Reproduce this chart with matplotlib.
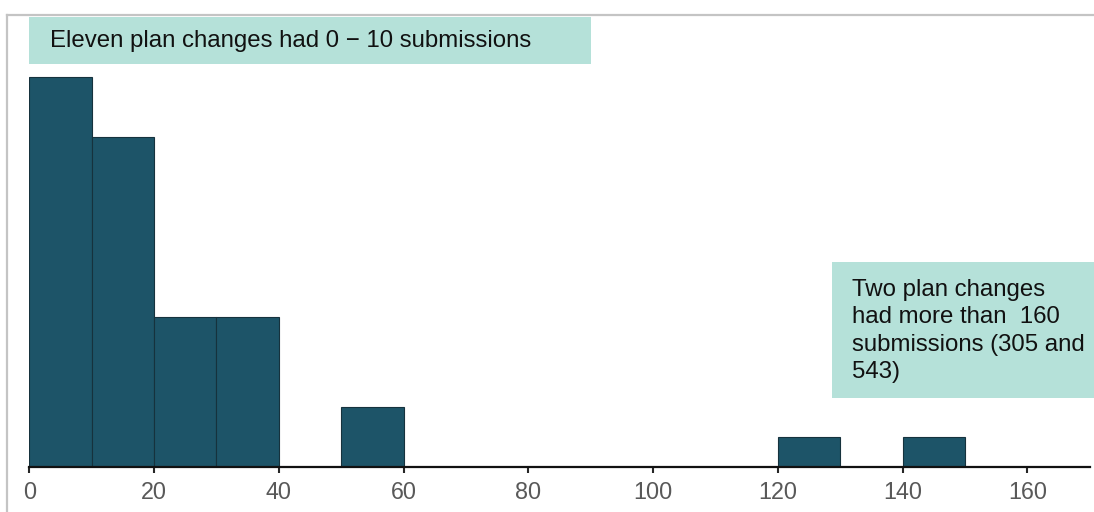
import matplotlib.pyplot as plt
from matplotlib.patches import Rectangle
from matplotlib.lines import Line2D

# submissions per plan change, binned by 10
bin_left = [0, 10, 20, 30, 40, 50, 60, 70, 80, 90, 100, 110, 120, 130, 140]
counts = [13, 11, 5, 5, 0, 2, 0, 0, 0, 0, 0, 0, 1, 0, 1]
xticks = [0, 20, 40, 60, 80, 100, 120, 140, 160]

note_top = "Eleven plan changes had 0 \u2212 10 submissions"
note_right = "Two plan changes\nhad more than  160\nsubmissions (305 and\n543)"

plt.rcParams['font.family'] = ['Liberation Sans', 'DejaVu Sans']

W, H = 1094, 512
fig = plt.figure(figsize=(W / 100, H / 100), dpi=100)

# axes placed in pixel terms
x0, x1 = 29.3, 1089.7
y_base = 466.7
px_per_unit = 29.94
ymax = 15
ax = fig.add_axes([x0 / W, 1 - y_base / H, (x1 - x0) / W, ymax * px_per_unit / H])

lefts = [b for b, c in zip(bin_left, counts) if c > 0]
vals = [c for c in counts if c > 0]
ax.bar(lefts, vals, width=10, align='edge', color='#1d5468',
       edgecolor='#16323d', linewidth=0.8, zorder=2)

ax.set_xlim(0, 170)
ax.set_ylim(0, ymax)
ax.set_xticks(xticks)
ax.set_xticklabels([str(t) for t in xticks])
ax.tick_params(axis='x', direction='out', length=4.5, width=1.5, color='#262626',
               labelsize=16.8, labelcolor='#595959', pad=6)
ax.set_yticks([])
for s in ['top', 'right', 'left']:
    ax.spines[s].set_visible(False)
ax.spines['bottom'].set_linewidth(1.6)
ax.spines['bottom'].set_color('#111111')
ax.spines['bottom'].set_zorder(3)
ax.patch.set_alpha(0)

# light gray frame on top and left
fig.add_artist(Line2D([7 / W, 7 / W], [0, 1 - 15 / H], color='#c4c4c4', lw=1.6))
fig.add_artist(Line2D([7 / W, 1], [1 - 15 / H, 1 - 15 / H], color='#c4c4c4', lw=1.6))

# annotation boxes
def box(xa, ya, xb, yb):
    fig.add_artist(Rectangle((xa / W, 1 - yb / H), (xb - xa) / W, (yb - ya) / H,
                             transform=fig.transFigure, facecolor='#b5e1d9',
                             edgecolor='none', zorder=5))

box(29, 16.5, 590.7, 64)
fig.text(50 / W, 1 - 41 / H, note_top, fontsize=17.3, color='#111111',
         ha='left', va='center', zorder=6)

box(831.7, 262, 1094, 397.7)
fig.text(851.7 / W, 1 - 331 / H, note_right, fontsize=17.3, color='#111111',
         ha='left', va='center', linespacing=1.32, zorder=6)

fig.savefig('out.png', dpi=100)
